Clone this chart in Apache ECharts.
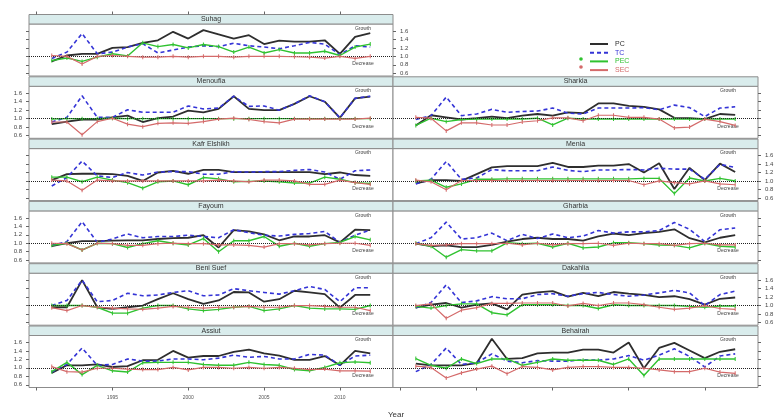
<!DOCTYPE html>
<html>
<head>
<meta charset="utf-8">
<title>Growth indices by governorate</title>
<script src="https://cdn.jsdelivr.net/npm/echarts@6/dist/echarts.min.js"></script>
<style>
  html, body { margin: 0; padding: 0; background: #fff; }
  #chart { width: 780px; height: 418px; }
</style>
</head>
<body>
<div id="chart"></div>
<script>
var years = [1991, 1992, 1993, 1994, 1995, 1996, 1997, 1998, 1999, 2000, 2001,
             2002, 2003, 2004, 2005, 2006, 2007, 2008, 2009, 2010, 2011, 2012];
var xTicks = [1990, 1995, 2000, 2005, 2010];
var xLabels = [1995, 2000, 2005, 2010];
var yTicks = [0.6, 0.8, 1.0, 1.2, 1.4, 1.6];
var seriesNames = ['PC', 'TC', 'PEC', 'SEC'];

// left column
var suhagPC  = [0.88,1.02,1.06,1.06,1.20,1.22,1.32,1.38,1.58,1.42,1.62,1.52,1.42,1.50,1.29,1.37,1.35,1.35,1.38,1.06,1.46,1.55];
var suhagTC  = [0.95,1.10,1.54,1.06,1.10,1.22,1.30,1.08,1.15,1.22,1.25,1.23,1.31,1.25,1.22,1.18,1.25,1.33,1.29,1.04,1.25,1.22];
var suhagPEC = [0.90,0.96,0.88,0.98,1.06,1.01,1.32,1.23,1.28,1.20,1.28,1.23,1.10,1.22,1.08,1.16,1.08,1.08,1.12,1.02,1.22,1.29];
var suhagSEC = [1.02,1.00,0.82,1.00,1.02,1.00,0.98,0.98,1.00,0.98,1.00,1.00,0.98,1.00,1.00,1.00,0.99,0.98,0.96,1.00,0.95,1.00];

var menoufiaPC  = [0.87,0.93,0.98,0.98,1.03,1.07,0.92,1.01,1.05,1.19,1.15,1.23,1.53,1.23,1.20,1.20,1.35,1.53,1.40,1.02,1.48,1.52];
var menoufiaTC  = [0.92,1.03,1.54,1.03,1.03,1.21,1.15,1.15,1.15,1.30,1.23,1.25,1.53,1.29,1.30,1.20,1.35,1.54,1.40,1.02,1.48,1.53];
var menoufiaPEC = [0.99,1.00,1.00,1.00,1.01,1.00,1.00,1.00,1.00,1.00,1.00,1.00,1.00,1.00,1.00,1.00,1.00,1.00,1.00,1.00,1.00,1.00];
var menoufiaSEC = [0.92,0.92,0.62,0.93,1.01,0.87,0.81,0.89,0.90,0.89,0.93,0.99,1.01,0.98,0.93,0.90,0.99,0.99,0.99,0.99,0.99,1.01];

var kafrPC  = [1.02,1.16,1.17,1.17,1.16,1.12,1.00,1.20,1.24,1.17,1.26,1.26,1.21,1.21,1.21,1.21,1.21,1.21,1.16,1.20,1.14,1.12];
var kafrTC  = [0.88,1.08,1.47,1.12,1.08,1.20,1.14,1.21,1.22,1.22,1.16,1.16,1.22,1.21,1.22,1.22,1.25,1.27,1.21,1.04,1.24,1.26];
var kafrPEC = [1.09,1.09,0.98,1.09,1.02,0.96,0.83,0.98,1.00,0.91,1.08,1.05,0.98,0.99,1.00,0.98,0.95,0.95,1.09,1.04,0.96,0.94];
var kafrSEC = [1.02,1.00,0.78,1.02,1.00,1.00,1.00,1.00,1.00,1.00,1.00,1.02,1.00,0.98,1.02,1.02,1.00,0.92,0.92,1.02,0.96,0.92];

var fayoumPC  = [0.93,1.00,1.05,1.05,1.06,1.07,1.07,1.10,1.12,1.13,1.19,0.90,1.31,1.28,1.21,1.07,1.16,1.16,1.19,1.02,1.32,1.31];
var fayoumTC  = [0.95,1.04,1.51,1.02,1.10,1.22,1.13,1.16,1.16,1.19,1.16,1.13,1.32,1.25,1.19,1.17,1.21,1.23,1.28,1.02,1.19,1.31];
var fayoumPEC = [0.95,1.00,0.84,1.00,0.99,0.90,0.99,1.06,1.00,0.96,1.11,0.80,1.06,1.06,1.16,0.93,1.00,0.93,0.99,1.02,1.16,1.08];
var fayoumSEC = [1.00,0.99,0.84,1.00,0.99,0.95,0.95,0.99,1.00,0.99,0.99,0.96,0.96,0.95,0.91,0.99,0.99,0.96,0.99,1.00,1.00,0.95];

var beniSuefPC  = [0.96,0.96,1.60,0.96,0.92,0.96,1.00,1.15,1.29,1.15,1.04,1.12,1.32,1.31,1.09,1.15,1.35,1.31,1.27,0.95,1.25,1.25];
var beniSuefTC  = [1.00,1.12,1.60,1.09,1.12,1.29,1.23,1.25,1.31,1.35,1.23,1.25,1.40,1.35,1.31,1.27,1.35,1.45,1.38,1.09,1.42,1.42];
var beniSuefPEC = [1.00,1.00,1.00,0.96,0.82,0.82,0.94,1.00,1.00,0.92,0.88,0.91,0.96,0.98,0.88,0.92,1.00,0.94,0.92,0.92,0.91,1.00];
var beniSuefSEC = [0.95,0.88,1.00,0.96,0.94,0.92,0.91,0.94,0.98,0.96,0.94,0.96,0.96,0.98,0.96,0.96,1.00,1.00,0.98,0.96,0.96,0.88];

var assiutPC  = [0.88,1.06,1.06,1.08,1.02,1.04,1.18,1.19,1.40,1.24,1.28,1.28,1.38,1.43,1.34,1.29,1.19,1.19,1.28,1.06,1.40,1.34];
var assiutTC  = [0.90,1.08,1.47,1.06,1.08,1.21,1.16,1.16,1.21,1.21,1.19,1.23,1.30,1.25,1.27,1.21,1.21,1.32,1.30,1.06,1.28,1.30];
var assiutPEC = [0.91,1.13,0.84,1.06,0.93,0.90,1.12,1.13,1.13,1.13,1.08,1.06,1.06,1.13,1.08,1.06,0.96,0.93,1.01,1.12,1.14,1.12];
var assiutSEC = [1.03,0.91,0.90,0.99,0.99,0.97,0.96,0.96,1.01,0.95,1.01,1.01,0.99,1.01,0.99,1.01,0.99,0.96,0.97,0.93,0.93,0.92];

// right column
var sharkiaPC  = [0.84,1.08,1.03,0.98,1.01,1.05,1.01,1.07,1.11,1.07,1.15,1.13,1.36,1.36,1.30,1.28,1.22,1.02,1.01,0.99,1.11,1.09];
var sharkiaTC  = [0.98,1.07,1.51,1.07,1.11,1.22,1.15,1.17,1.18,1.25,1.13,1.11,1.25,1.25,1.25,1.26,1.21,1.32,1.26,1.05,1.25,1.28];
var sharkiaPEC = [0.84,1.01,0.93,0.98,0.99,0.99,0.99,0.99,1.01,0.85,1.01,0.99,0.99,0.99,0.99,0.99,0.99,0.99,0.99,0.99,0.99,0.99];
var sharkiaSEC = [1.03,1.01,0.71,0.90,0.90,0.85,0.85,0.92,0.95,1.02,1.02,0.95,1.08,1.08,1.03,1.03,0.99,0.78,0.80,0.99,0.93,0.84];

var meniaPC  = [0.94,1.02,1.02,1.00,1.16,1.32,1.35,1.35,1.35,1.43,1.33,1.33,1.36,1.36,1.40,1.20,1.42,0.81,1.31,1.02,1.41,1.21];
var meniaTC  = [0.93,1.04,1.46,1.04,1.07,1.27,1.24,1.24,1.24,1.33,1.25,1.22,1.26,1.26,1.27,1.26,1.30,1.28,1.28,1.04,1.39,1.32];
var meniaPEC = [1.00,1.02,0.85,0.93,1.04,1.04,1.05,1.05,1.05,1.05,1.05,1.05,1.05,1.05,1.05,1.06,1.06,0.70,1.07,1.00,1.06,1.00];
var meniaSEC = [1.02,0.98,0.79,1.01,1.01,1.01,1.01,1.01,1.01,1.01,1.01,1.01,1.01,1.01,1.01,0.91,1.00,0.96,0.93,1.00,0.93,0.91];

var gharbiaPC  = [0.99,0.93,0.95,0.91,0.91,0.96,1.04,1.10,1.13,1.10,1.10,1.06,1.16,1.23,1.19,1.24,1.27,1.33,1.12,1.02,1.13,1.19];
var gharbiaTC  = [0.99,1.13,1.50,1.10,1.13,1.24,1.06,1.21,1.11,1.22,1.13,1.17,1.30,1.24,1.27,1.27,1.30,1.49,1.33,1.04,1.32,1.36];
var gharbiaPEC = [1.00,0.93,0.67,0.85,0.82,0.82,1.01,0.99,1.00,0.91,1.00,0.89,0.91,1.01,1.01,0.99,0.96,0.95,0.89,1.00,0.93,0.91];
var gharbiaSEC = [0.99,0.95,0.96,0.99,0.99,0.99,1.00,0.96,1.00,0.96,0.99,0.99,1.00,0.95,1.00,0.99,0.99,0.95,0.99,1.00,0.96,0.96];

var dakahliaPC  = [0.95,1.02,1.06,0.95,1.02,1.05,0.91,1.26,1.31,1.34,1.21,1.30,1.22,1.32,1.28,1.25,1.20,1.22,1.15,1.02,1.16,1.19];
var dakahliaTC  = [0.95,1.07,1.49,1.07,1.11,1.21,1.16,1.16,1.26,1.28,1.22,1.28,1.31,1.26,1.22,1.25,1.30,1.36,1.30,1.00,1.26,1.34];
var dakahliaPEC = [0.98,0.94,1.00,1.04,1.04,0.83,0.78,1.02,1.02,1.02,1.00,1.00,0.93,1.02,1.00,1.00,1.00,1.00,0.98,0.96,0.99,0.99];
var dakahliaSEC = [1.00,1.04,0.70,0.89,0.95,1.05,1.05,1.06,1.06,1.06,0.99,1.05,1.00,1.06,1.06,1.02,0.96,0.91,0.94,1.00,0.93,0.91];

var behairahPC  = [1.10,1.06,1.06,1.06,1.11,1.69,1.21,1.23,1.34,1.36,1.36,1.43,1.43,1.36,1.60,0.99,1.47,1.59,1.41,1.23,1.38,1.44];
var behairahTC  = [0.91,1.08,1.47,1.08,1.12,1.33,1.16,1.12,1.17,1.16,1.16,1.19,1.18,1.21,1.29,1.18,1.30,1.45,1.27,1.02,1.28,1.33];
var behairahPEC = [1.22,1.06,0.99,1.21,1.10,1.21,1.21,1.06,1.13,1.21,1.18,1.18,1.18,1.08,1.21,0.82,1.21,1.21,1.21,1.21,1.21,1.21];
var behairahSEC = [1.04,1.01,0.76,0.88,0.97,1.04,0.86,1.03,1.01,0.95,1.01,1.03,1.03,1.01,1.01,0.99,0.95,0.91,0.91,0.99,0.90,0.87];

var panels = [
  {name: 'Suhag',        col: 0, row: 0, values: [suhagPC, suhagTC, suhagPEC, suhagSEC]},
  {name: 'Menoufia',     col: 0, row: 1, values: [menoufiaPC, menoufiaTC, menoufiaPEC, menoufiaSEC]},
  {name: 'Kafr Elshikh', col: 0, row: 2, values: [kafrPC, kafrTC, kafrPEC, kafrSEC]},
  {name: 'Fayoum',       col: 0, row: 3, values: [fayoumPC, fayoumTC, fayoumPEC, fayoumSEC]},
  {name: 'Beni Suef',    col: 0, row: 4, values: [beniSuefPC, beniSuefTC, beniSuefPEC, beniSuefSEC]},
  {name: 'Assiut',       col: 0, row: 5, values: [assiutPC, assiutTC, assiutPEC, assiutSEC]},
  {name: 'Sharkia',      col: 1, row: 1, values: [sharkiaPC, sharkiaTC, sharkiaPEC, sharkiaSEC]},
  {name: 'Menia',        col: 1, row: 2, values: [meniaPC, meniaTC, meniaPEC, meniaSEC]},
  {name: 'Gharbia',      col: 1, row: 3, values: [gharbiaPC, gharbiaTC, gharbiaPEC, gharbiaSEC]},
  {name: 'Dakahlia',     col: 1, row: 4, values: [dakahliaPC, dakahliaTC, dakahliaPEC, dakahliaSEC]},
  {name: 'Behairah',     col: 1, row: 5, values: [behairahPC, behairahTC, behairahPEC, behairahSEC]}
];

var COLORS = {PC: '#2e2e2e', TC: '#3434d6', PEC: '#2fc22f', SEC: '#d46a6a'};
var FONT = 'Liberation Sans, Arial, sans-serif';
var Y_MIN = 0.535, Y_MAX = 1.765;
var STRIP_H = 9.5, PLOT_H = 52, ROW_STEP = 62.3;

var chart = echarts.init(document.getElementById('chart'));

var grids = [], xAxes = [], yAxes = [], series = [], graphics = [];

function lineStyleFor(name){
  if (name === 'PC') return {color: COLORS.PC, width: 1.8};
  if (name === 'TC') return {color: COLORS.TC, width: 1.6, type: [4, 3]};
  if (name === 'PEC') return {color: COLORS.PEC, width: 1.4};
  return {color: COLORS.SEC, width: 1.2};
}

function yTickAxis(gridIndex, position, showLabels){
  return {
    gridIndex: gridIndex, type: 'value', min: Y_MIN, max: Y_MAX, position: position,
    axisLine: {show: false}, splitLine: {show: false},
    axisTick: {show: true, customValues: yTicks, length: 3, lineStyle: {color: '#666'}},
    axisLabel: {show: showLabels, customValues: yTicks, fontSize: 6, color: '#444', fontFamily: FONT,
      margin: 7, formatter: function(v){ return v.toFixed(1); }}
  };
}

panels.forEach(function(p, i){
  var left = p.col ? 393 : 29;
  var width = p.col ? 365 : 364;
  var top = 24 + p.row * ROW_STEP;
  var isBottom = p.row === 5;

  grids.push({left: left, top: top, width: width, height: PLOT_H, show: true,
    borderColor: '#8c8c8c', borderWidth: 1, backgroundColor: '#fff'});

  var xIndex = xAxes.length;
  xAxes.push({
    gridIndex: i, type: 'value', min: 1989.5, max: 2013.5, position: 'bottom',
    axisLine: {show: false}, splitLine: {show: false},
    axisTick: {show: isBottom, customValues: xTicks, length: 3, lineStyle: {color: '#666'}},
    axisLabel: {show: isBottom && p.col === 0, customValues: xLabels, fontSize: 5,
      color: '#555', fontFamily: FONT, margin: 8,
      formatter: function(v){ return String(v); }}
  });
  if (p.row === 0) {
    // top ticks above the first strip
    xAxes.push({
      gridIndex: i, type: 'value', min: 1989.5, max: 2013.5, position: 'top', offset: STRIP_H,
      axisLine: {show: false}, splitLine: {show: false},
      axisTick: {show: true, customValues: xTicks, length: 3, lineStyle: {color: '#666'}},
      axisLabel: {show: false}
    });
  }

  var yIndex = yAxes.length;
  if (p.col === 0) {
    yAxes.push(yTickAxis(i, 'left', p.row % 2 === 1));
    if (p.row === 0) yAxes.push(yTickAxis(i, 'right', true));
  } else {
    yAxes.push(yTickAxis(i, 'right', p.row % 2 === 0));
  }

  seriesNames.forEach(function(name, k){
    var s = {
      name: name, type: 'line', xAxisIndex: xIndex, yAxisIndex: yIndex,
      data: years.map(function(y, j){ return [y, p.values[k][j]]; }),
      lineStyle: lineStyleFor(name), itemStyle: {color: COLORS[name]},
      symbol: 'none', silent: true, z: 2 + k
    };
    if (name === 'PEC' || name === 'SEC') {
      s.symbol = 'rect';
      s.symbolSize = [1, 4];
    }
    if (k === 0) {
      s.markLine = {
        silent: true, symbol: 'none', label: {show: false},
        lineStyle: {type: 'dotted', color: '#222', width: 1},
        data: [{yAxis: 1}]
      };
    }
    series.push(s);
  });

  // strip with panel name
  graphics.push({
    type: 'rect', shape: {x: left, y: top - STRIP_H, width: width, height: STRIP_H},
    style: {fill: '#d9ecec', stroke: '#8c8c8c', lineWidth: 1}
  });
  graphics.push({
    type: 'text', x: left + width / 2, y: top - STRIP_H / 2,
    style: {text: p.name, fill: '#333', font: '7px ' + FONT, align: 'center', verticalAlign: 'middle'}
  });
  graphics.push({
    type: 'text', x: left + width - 30, y: top + 4.5,
    style: {text: 'Growth', fill: '#444', font: '5px ' + FONT, align: 'center', verticalAlign: 'middle'}
  });
  graphics.push({
    type: 'text', x: left + width - 30, y: top + 40,
    style: {text: 'Decrease', fill: '#444', font: '5px ' + FONT, align: 'center', verticalAlign: 'middle'}
  });
});

// dots beside the point-series keys
graphics.push({type: 'circle', shape: {cx: 581, cy: 59, r: 1.8}, style: {fill: COLORS.PEC}});
graphics.push({type: 'circle', shape: {cx: 581, cy: 67, r: 1.8}, style: {fill: COLORS.SEC}});

var option = {
  backgroundColor: '#fff',
  animation: false,
  title: {
    text: 'Year', left: 383, top: 406,
    textStyle: {fontSize: 8, fontWeight: 'normal', color: '#333', fontFamily: FONT}
  },
  legend: {
    orient: 'vertical', left: 589, top: 40.5, padding: 0,
    itemWidth: 18, itemHeight: 6, itemGap: 1.7,
    itemStyle: {opacity: 0},
    selectedMode: false,
    textStyle: {fontSize: 7, lineHeight: 6, fontFamily: FONT, padding: [0, 0, 0, 2]},
    data: seriesNames.map(function(n){ return {name: n, textStyle: {color: COLORS[n]}}; })
  },
  grid: grids,
  xAxis: xAxes,
  yAxis: yAxes,
  series: series,
  graphic: graphics
};

chart.setOption(option);
</script>
</body>
</html>
